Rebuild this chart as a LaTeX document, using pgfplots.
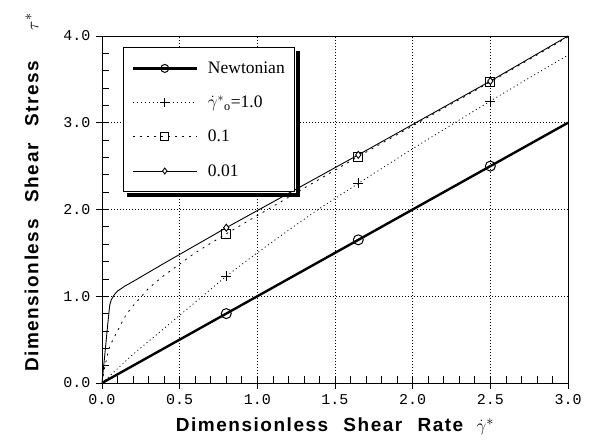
\documentclass[border=0pt]{standalone}
\usepackage{pgfplots}
\pgfplotsset{compat=1.18}
\usepackage{fontspec}
\setmainfont{Liberation Serif}
\newfontfamily\labfont[LetterSpace=8]{Liberation Sans Bold}
\newfontfamily\tickfont{Liberation Mono}

\newcommand\legfont{\fontsize{17.5}{20}\selectfont}

\begin{document}
\begin{tikzpicture}
\begin{axis}[
  name=ax,
  scale only axis,
  width=466pt, height=347pt,
  xmin=0, xmax=3, ymin=0, ymax=4,
  xtick={0,0.5,...,3}, ytick={0,1,...,4},
  minor x tick num=4, minor y tick num=4,
  tick pos=left,
  tick align=center,
  major tick length=12pt,
  minor tick length=7pt,
  minor x tick style={yshift=3.5pt},
  minor y tick style={xshift=3.5pt},
  grid=major,
  major grid style={black, line width=0.5pt, dash pattern=on 1pt off 2pt},
  axis line style={line width=0.8pt},
  every tick/.style={black, line width=0.7pt},
  /pgf/number format/.cd, fixed, fixed zerofill, precision=1, assume math mode=true,
  /pgfplots/.cd,
  ticklabel style={font=\tickfont\fontsize{15}{15}\selectfont},
  xticklabel style={yshift=-2pt},
  yticklabel style={xshift=-2pt},
  xlabel={Dimensionless\hspace{0.8em}Shear\hspace{0.8em}Rate\hspace{0.7em}$\dot{\gamma}^{*}$},
  ylabel={Dimensionless\hspace{0.9em}Shear\hspace{0.9em}Stress\hspace{1.6em}$\tau^{*}$},
  label style={font=\labfont\fontsize{19}{22}\selectfont},
  xlabel style={yshift=-6pt},
  ylabel style={yshift=18pt, xshift=17pt},
  legend cell align=left,
  legend image code/.code={
    \draw[mark repeat=2, mark phase=2, #1]
      plot coordinates {(0pt,0pt) (32pt,0pt) (64pt,0pt)};},
  legend style={
    name=leg,
    at={(axis cs:0.135,3.87)}, anchor=north west,
    draw=black, line width=1.2pt, fill=white,
    inner xsep=8pt, inner ysep=12pt,
    row sep=17pt, column sep=8pt,
  },
]

% legend samples
\addlegendimage{black, line width=2.4pt, mark=o, mark size=4pt, mark options={solid, line width=1pt, fill=white}}
\addlegendimage{black, line width=0.8pt, dash pattern=on 1pt off 3pt, mark=+, mark size=4.5pt, mark options={solid, line width=0.9pt}}
\addlegendimage{black, line width=0.8pt, dash pattern=on 2pt off 5pt, mark=square, mark size=4pt, mark options={solid, line width=0.9pt, fill=white}}
\addlegendimage{black, line width=0.9pt, mark=diamond*, mark size=3pt, mark options={solid, line width=0.9pt, fill=white}}

% Newtonian fluid
\addplot[forget plot, black, line width=2.4pt] coordinates {(0,0) (3,3)};
\addplot[forget plot, only marks, mark=o, mark size=5pt, mark options={line width=1pt}]
  coordinates {(0.8,0.8) (1.65,1.65) (2.5,2.5)};

% regularised Bingham, gamma_o = 1.0
\addplot[forget plot, black, line width=0.8pt, dash pattern=on 1pt off 3pt, smooth, tension=0.4] coordinates {
  (0,0) (0.1,0.165) (0.2,0.33) (0.3,0.48) (0.4,0.63) (0.5,0.78) (0.6,0.93)
  (0.8,1.23) (1.0,1.50) (1.2,1.76) (1.4,2.01) (1.65,2.30) (2.0,2.70)
  (2.5,3.25) (3.0,3.78)};
\addplot[forget plot, only marks, mark=+, mark size=5pt, mark options={line width=0.9pt}]
  coordinates {(0.8,1.23) (1.65,2.30) (2.5,3.25)};

% gamma_o = 0.1
\addplot[forget plot, black, line width=0.8pt, dash pattern=on 2pt off 5pt, smooth, tension=0.4] coordinates {
  (0,0) (0.02,0.2) (0.05,0.42) (0.1,0.6) (0.15,0.77) (0.2,0.89) (0.25,0.99)
  (0.3,1.09) (0.4,1.24) (0.5,1.37) (0.6,1.50) (0.8,1.72) (1.0,1.93)
  (1.65,2.61) (2.5,3.47) (3.0,3.99)};
\addplot[forget plot, only marks, mark=square, mark size=4.5pt, mark options={line width=0.9pt}]
  coordinates {(0.8,1.72) (1.65,2.61) (2.5,3.47)};

% gamma_o = 0.01
\addplot[forget plot, black, line width=0.9pt] coordinates {
  (0,0) (0.01,0.18) (0.02,0.36) (0.03,0.55) (0.04,0.73) (0.05,0.90)
  (0.06,0.96) (0.08,1.02) (0.1,1.06) (0.15,1.12) (0.2,1.17) (0.4,1.38)
  (0.8,1.79) (1.65,2.63) (2.5,3.48) (3.0,4.0)};
\addplot[forget plot, only marks, mark=diamond*, mark size=3.5pt, mark options={line width=0.9pt, fill=white}]
  coordinates {(0.8,1.79) (1.65,2.63) (2.5,3.48)};

\legend{\legfont Newtonian, {\legfont$\dot{\gamma}^{*}{}_{\mathrm{o}}$=1.0}, \legfont 0.1, \legfont 0.01}
\end{axis}
% heavy shadow along the right and bottom edges of the legend frame
\fill[black] ([xshift=0.6pt, yshift=-4pt]leg.north east) rectangle ([xshift=5pt, yshift=-5pt]leg.south east);
\fill[black] ([xshift=4pt, yshift=-0.6pt]leg.south west) rectangle ([xshift=5pt, yshift=-5pt]leg.south east);
\pgfresetboundingbox
\path[use as bounding box] ([xshift=-102pt,yshift=-60pt]ax.south west) rectangle ([xshift=26pt,yshift=36pt]ax.north east);
\end{tikzpicture}
\end{document}
